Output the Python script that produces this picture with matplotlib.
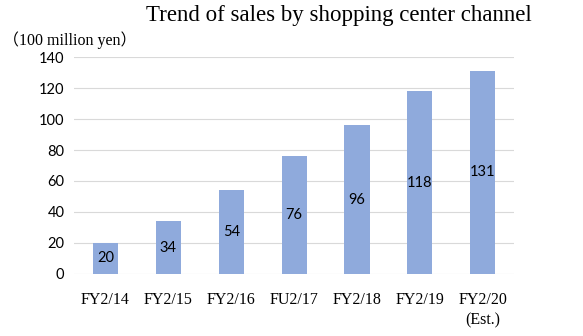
import matplotlib.pyplot as plt
import numpy as np

# data
years = ["FY2/14", "FY2/15", "FY2/16", "FU2/17", "FY2/18", "FY2/19", "FY2/20\n(Est.)"]
sales = [20, 34, 54, 76, 96, 118, 131]
yticks = [0, 20, 40, 60, 80, 100, 120, 140]

fig = plt.figure(figsize=(5.83, 3.36), dpi=100)
ax = fig.add_axes([0.127, 0.185, 0.755, 0.645])

x = np.arange(len(years))
bars = ax.bar(x, sales, width=0.4, color="#8faadc", zorder=3)

# value labels in the middle of each bar
for b, v in zip(bars, sales):
    ax.text(b.get_x() + b.get_width() / 2, v / 2, str(v), ha="center", va="center",
            fontsize=10.5, family="Lato", color="black", zorder=4)

ax.set_xlim(-0.5, len(years) - 0.5)
ax.set_ylim(0, 140)
ax.set_yticks(yticks)
ax.set_yticklabels([str(t) for t in yticks], family="Lato", fontsize=10.5)
ax.set_xticks(x)
ax.set_xticklabels(years, family="Liberation Serif", fontsize=11.5, linespacing=1.4)
ax.tick_params(length=0)
ax.tick_params(axis="y", pad=7)
ax.tick_params(axis="x", pad=13)

ax.grid(axis="y", color="#d9d9d9", lw=0.8, zorder=0)
for s in ax.spines.values():
    s.set_visible(False)

fig.text(0.582, 0.955, "Trend of sales by shopping center channel", ha="center", va="center",
         fontsize=16.5, family="Liberation Serif")
fig.text(0.005, 0.88, "（100 million yen）", ha="left", va="center", fontsize=11.5,
         family=["Liberation Serif", "Noto Sans CJK JP"])

plt.savefig("out.png", dpi=100)
